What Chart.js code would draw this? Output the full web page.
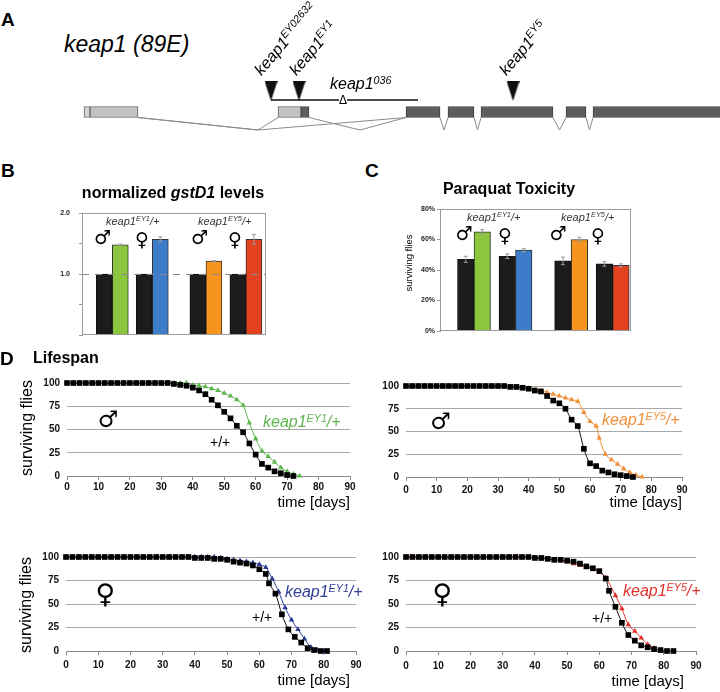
<!DOCTYPE html>
<html><head><meta charset="utf-8">
<script src="https://cdn.jsdelivr.net/npm/chart.js@4.4.1/dist/chart.umd.min.js"></script>
<style>
html,body{margin:0;padding:0;background:#fff}
body{width:720px;height:692px;position:relative;overflow:hidden;font-family:"Liberation Sans",Arial,sans-serif;color:#000}
.t{position:absolute;white-space:nowrap}
.s{font-size:67%;position:relative;top:-0.55em}
canvas{position:absolute}
</style></head><body>
<script>
// ---------------- DATA ----------------
// Panel A: gene model (map units along the locus)
const exonStart = [84, 90, 278, 301, 406, 448, 481, 566, 593];
const exonEnd   = [90, 138, 301, 309, 440, 474, 553, 586, 722];
const exonKind  = ['utr0','utr','utr','cds','cds','cds','cds','cds','cds'];
const intronFrom = [138, 138, 309, 440, 474, 553, 586];
const intronApex = [258, 258, 360, 444, 477.5, 559.5, 589.5];
const intronTo   = [278, 406, 406, 448, 481, 566, 593];
const insertionPos = [271, 299, 513];
const insertionNames = ['EY02632', 'EY1', 'EY5'];
const deletionSpan = [271, 418];

// Panel B: normalized gstD1 levels
const gstGroups = ['keap1EY1/+ male', 'keap1EY1/+ female', 'keap1EY5/+ male', 'keap1EY5/+ female'];
const gstControl = [1.0, 1.0, 1.0, 1.0];
const gstControlErr = [0, 0, 0, 0];
const gstMutant = [1.48, 1.57, 1.21, 1.57];
const gstMutantErr = [0.01, 0.04, 0.01, 0.08];

// Panel C: paraquat toxicity (% surviving)
const pqGroups = gstGroups;
const pqControl = [47, 49, 46, 44];
const pqControlErr = [2, 1.5, 2.5, 1.5];
const pqMutant = [65, 53, 60, 43];
const pqMutantErr = [1.5, 1, 1.5, 1];

// Panel D: lifespan (surviving flies)
const maleEY1CtrlDays = [0,2,4,6,8,10,12,14,16,18,20,22,24,26,28,30,32,34,36,38,40,42,44,46,48,50,52,54,56,58,60,62,64,66,68,70,72];
const maleEY1Ctrl     = [100,100,100,100,100,100,100,100,100,100,100,100,100,100,100,100,100,99,98,97,95,92,88,82,76,69,62,54,47,35,23,13,9,5,3,1,0];
const maleEY1MutDays  = [0,2,4,6,8,10,12,14,16,18,20,22,24,26,28,30,32,34,36,38,40,42,44,46,48,50,52,54,56,58,60,62,64,66,68,70,72,74];
const maleEY1Mut      = [100,100,100,100,100,100,100,100,100,100,100,100,100,100,100,100,100,100,100,100,98,97,96,94,92,89,86,82,76,57,40,27,21,15,9,5,2,0];

const maleEY5CtrlDays = [0,2,4,6,8,10,12,14,16,18,20,22,24,26,28,30,32,34,36,38,40,42,44,46,48,50,52,54,56,58,60,62,64,66,68,70,72,74];
const maleEY5Ctrl     = [100,100,100,100,100,100,100,100,100,100,100,100,100,100,100,100,100,99,99,98,97,95,94,89,84,81,75,63,56,31,15,12,7,5,3,2,1,0];
const maleEY5MutDays  = [0,2,4,6,8,10,12,14,16,18,20,22,24,26,28,30,32,34,36,38,40,42,44,46,48,50,52,54,56,58,60,62,63,65,67,69,71,73,75,77];
const maleEY5Mut      = [100,100,100,100,100,100,100,100,100,100,100,100,100,100,100,100,100,99,98,98,97,96,95,93,91,89,87,85,83,71,61,56,43,25,19,14,9,5,2,0];

const femEY1CtrlDays  = [0,2,4,6,8,10,12,14,16,18,20,22,24,26,28,30,32,34,36,38,40,42,44,46,48,50,52,54,56,58,60,62,63,65,67,69,71,73,75,77,79,81];
const femEY1Ctrl      = [100,100,100,100,100,100,100,100,100,100,100,100,100,100,100,100,100,100,100,100,99,99,99,98,98,97,95,94,93,91,87,82,72,61,39,23,15,9,3,1,0,0];
const femEY1MutDays   = [0,2,4,6,8,10,12,14,16,18,20,22,24,26,28,30,32,34,36,38,40,42,44,46,48,50,52,54,56,58,60,62,64,66,68,70,72,74,76,78,80];
const femEY1Mut       = [100,100,100,100,100,100,100,100,100,100,100,100,100,100,100,100,100,100,100,100,100,100,100,100,99,98,97,96,95,94,92,89,77,63,46,33,23,13,4,1,0];

const femEY5CtrlDays  = [0,2,4,6,8,10,12,14,16,18,20,22,24,26,28,30,32,34,36,38,40,42,44,46,48,50,52,54,56,58,60,62,63,65,67,69,71,73,75,77,79,81,83];
const femEY5Ctrl      = [100,100,100,100,100,100,100,100,100,100,100,100,100,100,100,100,100,100,100,100,99,99,98,97,97,96,95,93,90,88,85,77,64,47,30,17,11,6,4,2,1,0,0];
const femEY5MutDays   = [0,2,4,6,8,10,12,14,16,18,20,22,24,26,28,30,32,34,36,38,40,42,44,46,48,50,52,54,56,58,60,62,65,67,69,71,73,75,77];
const femEY5Mut       = [100,100,100,100,100,100,100,100,100,100,100,100,100,100,100,100,100,100,100,100,99,98,98,97,96,95,93,91,89,87,84,78,59,45,28,21,14,7,3];

const lifeXTicks = [0,10,20,30,40,50,60,70,80,90];
const lifeYTicks = [0,25,50,75,100];

// ---------------- HELPERS ----------------
const FONT = '"Liberation Sans", Arial, sans-serif';
Chart.defaults.font.family = FONT;
const BARCOL = ['#8cc63e', '#3d7cc9', '#f7941e', '#e2421f'];

function lab(html, x, y, size, o = {}) {
  const d = document.createElement('div');
  d.className = 't';
  d.innerHTML = html;
  d.style.fontSize = size + 'px';
  d.style.lineHeight = size + 'px';
  d.style.left = x + 'px';
  d.style.top = (y - 0.8465 * size) + 'px';
  if (o.b) d.style.fontWeight = 'bold';
  if (o.i) d.style.fontStyle = 'italic';
  if (o.c) d.style.color = o.c;
  if (o.f) d.style.fontFamily = o.f;
  if (o.bg) d.style.background = o.bg;
  let tr = '';
  if (o.a === 'center') tr = 'translateX(-50%)';
  if (o.a === 'right') tr = 'translateX(-100%)';
  if (o.rot) { d.style.transformOrigin = '0px ' + (0.8465 * size) + 'px'; tr += ' rotate(' + o.rot + 'deg)'; }
  d.style.transform = tr;
  document.body.appendChild(d);
  return d;
}
function vlab(text, cx, cy, size) {
  const d = document.createElement('div');
  d.className = 't';
  d.textContent = text;
  d.style.fontSize = size + 'px';
  d.style.lineHeight = size + 'px';
  d.style.left = cx + 'px';
  d.style.top = cy + 'px';
  d.style.transform = 'translate(-50%,-50%) rotate(-90deg)';
  document.body.appendChild(d);
}
function sym(ch, cx, cy, size) {
  const d = document.createElement('div');
  d.className = 't';
  d.textContent = ch;
  d.style.fontFamily = '"DejaVu Sans"';
  d.style.fontSize = size + 'px';
  d.style.left = cx + 'px';
  d.style.top = cy + 'px';
  d.style.transform = 'translate(-50%,-50%)';
  document.body.appendChild(d);
}
function canvasAt(l, t, w, h) {
  const c = document.createElement('canvas');
  c.width = Math.round(w); c.height = Math.round(h);
  c.style.left = l + 'px'; c.style.top = t + 'px';
  document.body.appendChild(c);
  return c;
}
const xy = (xs, ys) => xs.map((x, i) => ({ x, y: ys[i] }));

// ---------------- PANEL A ----------------
(function () {
  const tri = document.createElement('canvas');
  tri.width = 13; tri.height = 20;
  const tc = tri.getContext('2d');
  tc.fillStyle = '#111'; tc.beginPath(); tc.moveTo(0, 0); tc.lineTo(13, 0); tc.lineTo(6.5, 20); tc.closePath(); tc.fill();

  const kindFill = { utr0: '#d2d2d2', utr: '#c2c2c2', cds: '#5d5d5d' };
  const kindLine = { utr0: '#666', utr: '#666', cds: '#444' };
  const HALF = 0.275, APEX = -0.9;
  const datasets = [];
  datasets.push({
    type: 'bar', indexAxis: 'y',
    data: exonStart.map((s, i) => ({ x: [s, exonEnd[i]], y: 0 })),
    backgroundColor: exonKind.map(k => kindFill[k]),
    borderColor: exonKind.map(k => kindLine[k]),
    borderWidth: 1, borderSkipped: false, barThickness: 11
  });
  intronFrom.forEach((f, i) => {
    datasets.push({
      type: 'line',
      data: [{ x: f, y: -HALF }, { x: intronApex[i], y: APEX }, { x: intronTo[i], y: -HALF }],
      borderColor: '#8a8a8a', borderWidth: 1, pointRadius: 0, tension: 0, clip: false
    });
  });
  datasets.push({
    type: 'line',
    data: [{ x: deletionSpan[0], y: 0.6 }, { x: deletionSpan[1], y: 0.6 }],
    borderColor: '#111', borderWidth: 1.6, pointRadius: 0, clip: false
  });
  datasets.push({
    type: 'scatter',
    data: insertionPos.map(p => ({ x: p, y: 1.05 })),
    pointStyle: tri, pointRadius: 10, clip: false
  });
  new Chart(canvasAt(0, 62, 720, 80), {
    type: 'scatter',
    data: { datasets },
    options: {
      responsive: false, animation: false, events: [],
      layout: { padding: 0, autoPadding: false },
      plugins: { legend: { display: false }, tooltip: { enabled: false } },
      scales: {
        x: { type: 'linear', min: 0, max: 720, display: false, offset: false },
        y: { type: 'linear', min: -1.5, max: 2.5, display: false, offset: false }
      }
    }
  });
})();

lab('A', 1, 26, 19, { b: true });
lab('keap1 (89E)', 64, 52, 23, { i: true });
const insLabelBase = [[262, 77], [297, 77], [507, 77]];
insertionNames.forEach((n, i) => {
  lab('keap1<span class="s">' + n + '</span>', insLabelBase[i][0], insLabelBase[i][1], 16, { i: true, rot: -50 });
});
lab('keap1<span class="s">036</span>', 330, 90, 16, { i: true });
lab('&Delta;', 343, 104.5, 12, { a: 'center', bg: '#fff' });

// ---------------- PANELS B & C ----------------
const barDeco = {
  id: 'barDeco',
  afterDatasetsDraw(chart, args, opts) {
    const { ctx, chartArea: a } = chart;
    const ys = chart.scales.y;
    if (opts.ref != null) {
      const y = Math.round(ys.getPixelForValue(opts.ref)) + 0.5;
      ctx.save(); ctx.strokeStyle = '#8a8a8a'; ctx.lineWidth = 1.2; ctx.setLineDash([7, 6]);
      ctx.beginPath(); ctx.moveTo(a.left, y); ctx.lineTo(a.right, y); ctx.stroke(); ctx.restore();
    }
    chart.data.datasets.forEach((ds, di) => {
      const meta = chart.getDatasetMeta(di);
      meta.data.forEach((bar, i) => {
        const e = ds.errors[i]; if (!e) return;
        const v = ds.data[i].y;
        const y1 = ys.getPixelForValue(v + e), y2 = ys.getPixelForValue(v - e);
        ctx.save(); ctx.strokeStyle = '#9a9a9a'; ctx.lineWidth = 1;
        ctx.beginPath();
        ctx.moveTo(bar.x, y1); ctx.lineTo(bar.x, y2);
        ctx.moveTo(bar.x - 2, y1); ctx.lineTo(bar.x + 2, y1);
        ctx.moveTo(bar.x - 2, y2); ctx.lineTo(bar.x + 2, y2);
        ctx.stroke(); ctx.restore();
      });
    });
    ctx.save(); ctx.strokeStyle = '#9a9a9a'; ctx.lineWidth = 1;
    ctx.strokeRect(Math.round(a.left) + 0.5, Math.round(a.top) + 0.5, Math.round(a.width) - 1, Math.round(a.height) - 1);
    ctx.restore();
  }
};

function barChart(box, ctrl, ctrlErr, mut, mutErr, yMax, yStep, tickFmt, ref, thick, labPad) {
  const M = 16;
  const L = box.l - 40, T = box.t - M;
  const W = box.r + 8 - L, H = box.b + M - T;
  const gap = 0.34;
  const pos = ctrl.map((_, i) => i + (i >= 2 ? gap : 0));
  const unit = (box.r - box.l) / 4.6;
  const xmin = -(box.ctr0 - box.l) / unit;
  new Chart(canvasAt(L, T, W, H), {
    type: 'bar',
    data: {
      datasets: [
        { data: xy(pos, ctrl), errors: ctrlErr, backgroundColor: '#1c1c1c', borderColor: '#111', borderWidth: 1, barThickness: thick },
        { data: xy(pos, mut), errors: mutErr, backgroundColor: BARCOL, borderColor: '#333', borderWidth: 1, barThickness: thick }
      ]
    },
    options: {
      responsive: false, animation: false, events: [],
      layout: { padding: { left: 0, top: M, right: 8, bottom: M }, autoPadding: false },
      plugins: { legend: { display: false }, tooltip: { enabled: false }, barDeco: { ref } },
      scales: {
        x: { type: 'linear', display: false, offset: false, min: xmin, max: xmin + 4.6 },
        y: {
          min: 0, max: yMax,
          ticks: { stepSize: yStep, callback: tickFmt, font: { size: 7, weight: 'bold' }, color: '#222', padding: labPad },
          grid: { drawOnChartArea: false, drawTicks: true, tickLength: 3, color: '#999' },
          border: { display: true, color: '#9a9a9a' },
          afterFit: s => { s.width = 40; }
        }
      }
    },
    plugins: [barDeco]
  });
}

barChart({ l: 82, t: 213, r: 266, b: 335, ctr0: 112.3 }, gstControl, gstControlErr, gstMutant, gstMutantErr,
  2, 0.5, v => (v === 2 ? '2.0' : v === 1 ? '1.0' : ''), 1, 16, 9);
barChart({ l: 440, t: 209, r: 631, b: 331, ctr0: 474 }, pqControl, pqControlErr, pqMutant, pqMutantErr,
  80, 20, v => v + '%', null, 16.5, 2);

lab('B', 1, 177, 19, { b: true });
lab('normalized <i>gstD1</i> levels', 173, 199, 16, { b: true, a: 'center' });
lab('keap1<span class="s">EY1</span>/+', 106, 225, 11, { i: true, c: '#333' });
lab('keap1<span class="s">EY5</span>/+', 198, 225, 11, { i: true, c: '#333' });
sym('\u2642', 102.5, 237, 19); sym('\u2640', 142, 239, 19);
sym('\u2642', 199.5, 237, 19); sym('\u2640', 235, 239, 19);

lab('C', 365, 177, 19, { b: true });
lab('Paraquat Toxicity', 509, 195, 16, { b: true, a: 'center' });
vlab('surviving flies', 409, 263, 9.5);
lab('keap1<span class="s">EY1</span>/+', 467, 221, 11, { i: true, c: '#333' });
lab('keap1<span class="s">EY5</span>/+', 561, 221, 11, { i: true, c: '#333' });
sym('\u2642', 464, 233, 19); sym('\u2640', 505, 235, 19);
sym('\u2642', 558, 233, 19); sym('\u2640', 598, 235, 19);

// ---------------- PANEL D ----------------
function lifeChart(box, ctrlD, ctrl, mutD, mut, color, xpad) {
  const M = 16;
  const L = box.l - 60, T = box.t - M;
  const W = box.r + 14 - L, H = box.b + 26 - T;
  new Chart(canvasAt(L, T, W, H), {
    type: 'line',
    data: {
      datasets: [
        { data: xy(ctrlD, ctrl), borderColor: '#111', backgroundColor: '#000', borderWidth: 1,
          pointStyle: 'rect', pointRadius: 4, pointBorderWidth: 0, tension: 0.3, clip: false },
        { data: xy(mutD, mut), borderColor: color, backgroundColor: color, borderWidth: 1,
          pointStyle: 'triangle', pointRadius: 3.2, pointBorderWidth: 0, tension: 0.3, clip: false }
      ]
    },
    options: {
      responsive: false, animation: false, events: [],
      layout: { padding: { left: 0, top: M, right: 14, bottom: 0 }, autoPadding: false },
      plugins: { legend: { display: false }, tooltip: { enabled: false } },
      scales: {
        x: {
          type: 'linear', min: lifeXTicks[0], max: lifeXTicks[lifeXTicks.length - 1],
          afterBuildTicks: s => { s.ticks = lifeXTicks.map(v => ({ value: v })); },
          ticks: { font: { size: 10, weight: 'bold' }, color: '#111', padding: xpad, maxRotation: 0 },
          grid: { drawOnChartArea: false, drawTicks: true, tickLength: 4, color: '#8a8a8a' },
          border: { display: true, color: '#8a8a8a' },
          afterFit: s => { s.height = 26; }
        },
        y: {
          min: 0, max: 100,
          afterBuildTicks: s => { s.ticks = lifeYTicks.map(v => ({ value: v })); },
          ticks: { font: { size: 10, weight: 'bold' }, color: '#111', padding: 7 },
          grid: { drawTicks: false, color: '#a8a8a8' },
          border: { display: false },
          afterFit: s => { s.width = 60; }
        }
      }
    }
  });
}

const GREEN = '#5fb64f', ORANGE = '#f0913a', NAVY = '#2f3d97', RED = '#e0322a';
lifeChart({ l: 66.7, t: 382.7, r: 350, b: 476 }, maleEY1CtrlDays, maleEY1Ctrl, maleEY1MutDays, maleEY1Mut, GREEN, 1);
lifeChart({ l: 405.7, t: 386, r: 681.7, b: 477.3 }, maleEY5CtrlDays, maleEY5Ctrl, maleEY5MutDays, maleEY5Mut, ORANGE, 3);
lifeChart({ l: 65.7, t: 557, r: 355.5, b: 651 }, femEY1CtrlDays, femEY1Ctrl, femEY1MutDays, femEY1Mut, NAVY, 4);
lifeChart({ l: 405.7, t: 556.7, r: 696, b: 650.3 }, femEY5CtrlDays, femEY5Ctrl, femEY5MutDays, femEY5Mut, RED, 5);

lab('D', 0, 365, 19, { b: true });
lab('Lifespan', 33, 364, 16, { b: true });
vlab('surviving flies', 27, 428, 16);
vlab('surviving flies', 26, 605, 16);
lab('time [days]', 350, 507, 15, { a: 'right' });
lab('time [days]', 682, 507, 15, { a: 'right' });
lab('time [days]', 350, 685, 15, { a: 'right' });
lab('time [days]', 684, 686, 15, { a: 'right' });

sym('\u2642', 108, 418.5, 23);
sym('\u2642', 440.5, 420.5, 23);
sym('\u2640', 105.5, 593, 27);
sym('\u2640', 442.5, 593, 27);

lab('keap1<span class="s">EY1</span>/+', 263, 428, 16, { i: true, c: GREEN });
lab('keap1<span class="s">EY5</span>/+', 602, 426, 16, { i: true, c: ORANGE });
lab('keap1<span class="s">EY1</span>/+', 285, 598, 16, { i: true, c: NAVY });
lab('keap1<span class="s">EY5</span>/+', 623, 597, 16, { i: true, c: RED });
lab('+/+', 210, 447, 14);
lab('+/+', 252, 622, 14);
lab('+/+', 592, 623, 14);
</script>
</body></html>
